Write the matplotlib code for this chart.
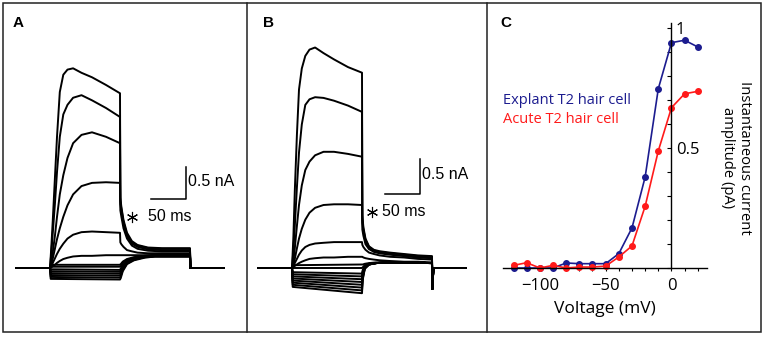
import matplotlib
matplotlib.use('Agg')
import matplotlib.pyplot as plt
from matplotlib.patches import Rectangle
from matplotlib.lines import Line2D
from matplotlib.ticker import MultipleLocator, FixedLocator

# ---- panel A / B : whole-cell current traces (time in ms, current in nA) ----
# time nodes for outward (depolarising) steps
t_out = [-50, 0, 2, 4, 7, 10, 14, 19, 25, 33, 45, 60, 80, 100,
         100.5, 102, 105, 110, 117, 125, 140, 160, 180, 200, 200.5, 202, 250]
# time nodes for inward / near-zero steps
t_in = [-50, 0, 1, 100, 101, 104, 110, 120, 135, 150, 200, 200.5, 202, 250]

A_out = [
    [0, 0, 0.35, 0.75, 1.4, 2.05, 2.75, 3.02, 3.1, 3.12, 3.05, 2.98, 2.86, 2.73,
     1.1, 0.95, 0.75, 0.55, 0.42, 0.36, 0.32, 0.31, 0.31, 0.31, 0, 0, 0],
    [0, 0, 0.25, 0.55, 1.0, 1.5, 2.05, 2.4, 2.55, 2.66, 2.7, 2.62, 2.5, 2.36,
     1.05, 0.92, 0.72, 0.52, 0.4, 0.35, 0.31, 0.3, 0.3, 0.3, 0, 0, 0],
    [0, 0, 0.1, 0.25, 0.5, 0.8, 1.15, 1.45, 1.72, 1.95, 2.08, 2.12, 2.05, 1.95,
     1.0, 0.88, 0.68, 0.5, 0.38, 0.33, 0.29, 0.28, 0.28, 0.28, 0, 0, 0],
    [0, 0, 0.06, 0.15, 0.3, 0.45, 0.62, 0.8, 0.98, 1.15, 1.28, 1.33, 1.34, 1.33,
     0.9, 0.8, 0.62, 0.46, 0.35, 0.3, 0.27, 0.26, 0.26, 0.26, 0, 0, 0],
    [0, 0, 0.03, 0.08, 0.15, 0.22, 0.3, 0.38, 0.46, 0.52, 0.56, 0.57, 0.56, 0.55,
     0.4, 0.37, 0.33, 0.28, 0.26, 0.24, 0.23, 0.23, 0.23, 0.23, 0, 0, 0],
    [0, 0, 0.01, 0.03, 0.05, 0.08, 0.11, 0.14, 0.16, 0.18, 0.19, 0.19, 0.2, 0.2,
     0.2, 0.2, 0.2, 0.2, 0.2, 0.2, 0.2, 0.21, 0.21, 0.21, 0, 0, 0],
]
A_in = [
    [0, 0, 0.05, 0.05, 0.06, 0.1, 0.14, 0.17, 0.19, 0.2, 0.2, 0, 0, 0],
    [0, 0, 0.02, 0.02, 0.03, 0.08, 0.13, 0.16, 0.19, 0.2, 0.2, 0, 0, 0],
    [0, 0, -0.02, -0.03, -0.01, 0.05, 0.11, 0.15, 0.18, 0.19, 0.19, 0, 0, 0],
    [0, 0, -0.05, -0.06, -0.04, 0.03, 0.1, 0.14, 0.18, 0.19, 0.19, 0, 0, 0],
    [0, 0, -0.08, -0.09, -0.07, 0.01, 0.09, 0.14, 0.17, 0.19, 0.19, 0, 0, 0],
    [0, 0, -0.11, -0.12, -0.1, -0.01, 0.08, 0.13, 0.17, 0.18, 0.18, 0, 0, 0],
    [0, 0, -0.14, -0.15, -0.13, -0.03, 0.07, 0.13, 0.17, 0.18, 0.18, 0, 0, 0],
    [0, 0, -0.17, -0.18, -0.16, -0.05, 0.06, 0.12, 0.16, 0.18, 0.18, 0, 0, 0],
]

B_out = [
    [0, 0, 0.45, 1.1, 1.9, 2.55, 2.85, 3.03, 3.12, 3.15, 3.07, 2.98, 2.87, 2.79,
     0.75, 0.58, 0.42, 0.31, 0.26, 0.24, 0.22, 0.2, 0.18, 0.17, -0.3, 0, 0],
    [0, 0, 0.25, 0.6, 1.15, 1.65, 2.05, 2.33, 2.41, 2.44, 2.43, 2.39, 2.32, 2.23,
     0.7, 0.55, 0.4, 0.3, 0.25, 0.23, 0.21, 0.19, 0.17, 0.16, -0.3, 0, 0],
    [0, 0, 0.1, 0.28, 0.6, 0.9, 1.18, 1.4, 1.52, 1.61, 1.66, 1.66, 1.63, 1.59,
     0.65, 0.52, 0.37, 0.28, 0.24, 0.22, 0.2, 0.18, 0.16, 0.15, -0.3, 0, 0],
    [0, 0, 0.05, 0.13, 0.28, 0.42, 0.56, 0.69, 0.79, 0.86, 0.9, 0.91, 0.91, 0.9,
     0.55, 0.46, 0.34, 0.27, 0.23, 0.21, 0.19, 0.17, 0.15, 0.14, -0.3, 0, 0],
    [0, 0, 0.03, 0.07, 0.13, 0.19, 0.25, 0.3, 0.33, 0.35, 0.36, 0.37, 0.37, 0.37,
     0.33, 0.3, 0.26, 0.22, 0.2, 0.18, 0.16, 0.15, 0.13, 0.12, -0.3, 0, 0],
    [0, 0, 0.01, 0.03, 0.05, 0.07, 0.09, 0.11, 0.13, 0.14, 0.15, 0.15, 0.16, 0.16,
     0.16, 0.15, 0.14, 0.13, 0.12, 0.11, 0.1, 0.09, 0.09, 0.08, -0.3, 0, 0],
]
B_in = [
    [0, 0, 0.04, 0.05, 0.05, 0.06, 0.07, 0.08, 0.08, 0.08, 0.07, -0.3, 0, 0],
    [0, 0, 0.0, 0.0, 0.01, 0.04, 0.06, 0.07, 0.08, 0.08, 0.07, -0.3, 0, 0],
    [0, 0, -0.06, -0.08, -0.03, 0.03, 0.06, 0.07, 0.08, 0.08, 0.07, -0.3, 0, 0],
    [0, 0, -0.09, -0.12, -0.05, 0.02, 0.06, 0.07, 0.08, 0.08, 0.07, -0.3, 0, 0],
    [0, 0, -0.12, -0.16, -0.07, 0.02, 0.06, 0.07, 0.08, 0.08, 0.07, -0.3, 0, 0],
    [0, 0, -0.15, -0.2, -0.09, 0.01, 0.05, 0.07, 0.08, 0.08, 0.07, -0.3, 0, 0],
    [0, 0, -0.18, -0.24, -0.11, 0.0, 0.05, 0.07, 0.08, 0.08, 0.07, -0.3, 0, 0],
    [0, 0, -0.21, -0.28, -0.13, 0.0, 0.05, 0.07, 0.08, 0.08, 0.07, -0.3, 0, 0],
    [0, 0, -0.24, -0.32, -0.15, -0.01, 0.05, 0.07, 0.08, 0.08, 0.07, -0.3, 0, 0],
    [0, 0, -0.27, -0.36, -0.17, -0.01, 0.05, 0.07, 0.08, 0.08, 0.07, -0.3, 0, 0],
]

# ---- panel C : normalised instantaneous current vs voltage ----
voltage_mV = [-120, -110, -100, -90, -80, -70, -60, -50, -40, -30, -20, -10, 0, 10, 20]
explant_T2 = [0, 0, 0, 0, 0.021, 0.018, 0.018, 0.018, 0.06, 0.167, 0.379, 0.747, 0.939, 0.949, 0.921]
acute_T2 = [0.011, 0.022, 0, 0.011, 0, 0.004, 0.004, 0.008, 0.046, 0.092, 0.257, 0.488, 0.668, 0.726, 0.736]

W, H = 765, 338
BLUE = '#1c1c8f'
RED = '#ff1a1a'
arial = ['Liberation Sans', 'DejaVu Sans']
myriad = ['Open Sans', 'DejaVu Sans']


def px_axes(fig, x0, y0, x1, y1):
    # axes from pixel box (top-left origin)
    return fig.add_axes([x0 / W, 1 - y1 / H, (x1 - x0) / W, (y1 - y0) / H])


def draw_traces(ax, outs, ins, bar, label_pos, star_pos):
    for tr in outs:
        ax.plot(t_out, tr, color='k', lw=1.4, solid_joinstyle='round')
    for tr in ins:
        ax.plot(t_in, tr, color='k', lw=1.4, solid_joinstyle='round')
    bx, by = bar
    ax.plot([bx - 50, bx, bx], [by, by, by + 0.5], color='k', lw=1.1)
    ax.text(bx + 3, by + 0.27, '0.5 nA', family=arial, fontsize=11.5, va='center', ha='left')
    ax.text(label_pos[0], label_pos[1], '50 ms', family=arial, fontsize=11.5, va='center', ha='center')
    ax.plot([star_pos[0]], [star_pos[1]], marker=(6, 2, 0), ms=8, mew=0.8, color='k')
    ax.set_axis_off()


fig = plt.figure(figsize=(W / 100, H / 100), dpi=100)

# panel A
axA = px_axes(fig, 15, 40, 225, 300)
axA.set_xlim(-50, 250)
axA.set_ylim(-(300 - 268) / 64, (268 - 40) / 64)
draw_traces(axA, A_out, A_in, (194, 1.08), (171, 0.8), (117, 0.8))

# panel B
axB = px_axes(fig, 257, 30, 467, 300)
axB.set_xlim(-50, 250)
axB.set_ylim(-(300 - 268) / 70, (268 - 30) / 70)
draw_traces(axB, B_out, B_in, (183, 1.06), (160, 0.8), (114, 0.8))

# panel C
axC = px_axes(fig, 503, 23.2, 707, 268)
axC.set_xlim(-128, 27)
axC.set_ylim(0, 1.02)
axC.plot(voltage_mV, explant_T2, color=BLUE, lw=1.2, marker='o', ms=4, clip_on=False)
axC.plot(voltage_mV, acute_T2, color=RED, lw=1.2, marker='o', ms=4, clip_on=False)
for s in ['top', 'right']:
    axC.spines[s].set_visible(False)
axC.spines['left'].set_position(('data', 0))
axC.spines['left'].set_linewidth(1.0)
axC.spines['bottom'].set_linewidth(1.0)
axC.yaxis.set_major_locator(FixedLocator([0.5, 1]))
axC.yaxis.set_minor_locator(MultipleLocator(0.1))
axC.set_yticklabels(['0.5', '1'])
axC.tick_params(axis='y', which='both', direction='out', length=3, width=0.8, pad=-6, labelsize=12)
for lbl in axC.get_yticklabels():
    lbl.set_horizontalalignment('left')
    lbl.set_family(myriad)
axC.xaxis.set_major_locator(FixedLocator([-100, -50, 0]))
axC.xaxis.set_minor_locator(MultipleLocator(10))
axC.tick_params(axis='x', which='both', direction='out', length=2, width=0.8, pad=5, labelsize=12)
for lbl in axC.get_xticklabels():
    lbl.set_family(myriad)
axC.set_xlabel('Voltage (mV)', family=myriad, fontsize=12.5, labelpad=5)
axC.text(-128, 0.70, 'Explant T2 hair cell', color=BLUE, family=myriad, fontsize=10.5, va='center', ha='left')
axC.text(-128, 0.62, 'Acute T2 hair cell', color=RED, family=myriad, fontsize=10.5, va='center', ha='left')
fig.text(736 / W, 1 - 158 / H, 'Instantaneous current\namplitude (pA)', family=myriad, fontsize=10.6,
         rotation=-90, ha='center', va='center', multialignment='center')

# panel letters
for x, letter in [(13, 'A'), (263, 'B'), (500, 'C')]:
    fig.text(x / W, 1 - 23 / H, letter, family=arial, fontsize=11, fontweight='bold', va='center', ha='left')

# frame and dividers
fig.add_artist(Rectangle((3 / W, 1 - 332 / H), 758 / W, 329 / H, transform=fig.transFigure,
                         fill=False, lw=1.1, ec='#222222'))
for x in [246.5, 487.5]:
    fig.add_artist(Line2D([x / W, x / W], [1 - 332 / H, 1 - 3 / H], transform=fig.transFigure,
                          lw=1.1, color='#222222'))

fig.savefig('out.png', dpi=100)
